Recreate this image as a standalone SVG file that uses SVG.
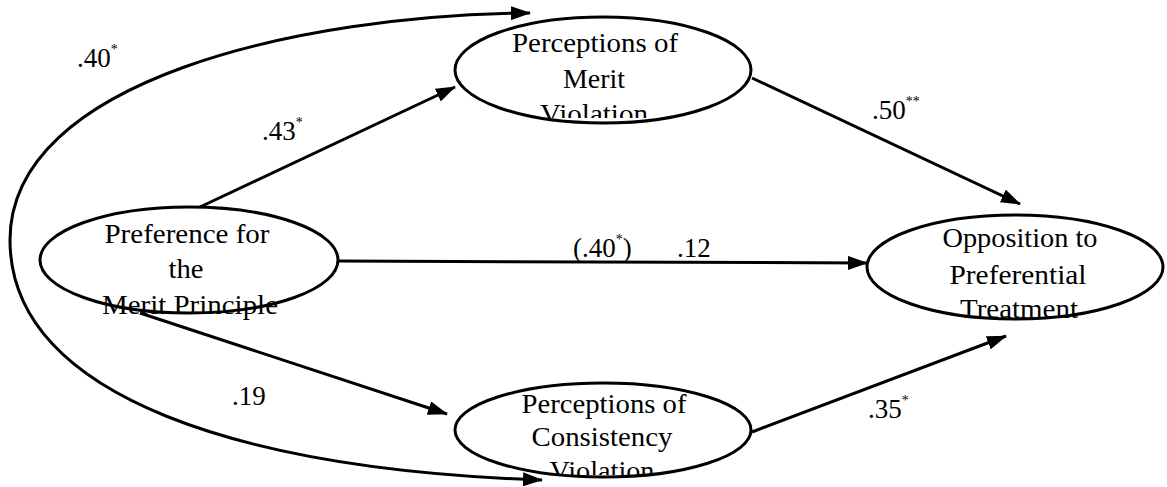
<svg xmlns="http://www.w3.org/2000/svg" width="1167" height="487" viewBox="0 0 1167 487">
  <style>
    .node { fill: #ffffff; stroke: #000000; stroke-width: 3; }
    .lbl { font-size: 27px; fill: #000000; text-anchor: middle; }
    .coef { font-size: 27px; fill: #000000; }
    .sig { font-size: 14px; }
    .edge { fill: none; stroke: #000000; stroke-width: 3; }
  </style>
  <defs>
    <marker id="arrow" viewBox="0 0 20 14" refX="19" refY="7" markerWidth="20" markerHeight="14" markerUnits="userSpaceOnUse" orient="auto">
      <path d="M0,0 L20,7 L0,14 Z" fill="#000000"/>
    </marker>
    <clipPath id="clipMerit"><rect x="440" y="0" width="330" height="118"/></clipPath>
    <clipPath id="clipCons"><rect x="440" y="370" width="330" height="105"/></clipPath>
  </defs>

  <rect width="1167" height="487" fill="#ffffff"/>

  <g font-family="'Liberation Serif', 'Times New Roman', 'DejaVu Serif', serif">
  <!-- connectors -->
  <g id="connectors">
    <!-- covariance curve around the left side -->
    <path class="edge" d="M 10,240 C 10,80 300,15 530,13" marker-end="url(#arrow)"/>
    <path class="edge" d="M 10,240 C 10,400 250,470 542,480" marker-end="url(#arrow)"/>
    <line class="edge" x1="200" y1="207" x2="455" y2="87" marker-end="url(#arrow)"/>
    <line class="edge" x1="140" y1="313" x2="447" y2="414" marker-end="url(#arrow)"/>
    <line class="edge" x1="338" y1="261" x2="867" y2="263" marker-end="url(#arrow)"/>
    <line class="edge" x1="752" y1="78" x2="1020" y2="204" marker-end="url(#arrow)"/>
    <line class="edge" x1="752" y1="432" x2="1006" y2="336" marker-end="url(#arrow)"/>
  </g>

  <!-- path coefficients -->
  <g id="coefficients">
    <text class="coef" x="77" y="67">.40<tspan class="sig" dy="-13">*</tspan></text>
    <text class="coef" x="262" y="140">.43<tspan class="sig" dy="-13">*</tspan></text>
    <text class="coef" x="872" y="119">.50<tspan class="sig" dy="-13">**</tspan></text>
    <text class="coef" x="573" y="257">(.40<tspan class="sig" dy="-13">*</tspan><tspan dy="13">)</tspan></text>
    <text class="coef" x="677" y="257">.12</text>
    <text class="coef" x="232" y="405">.19</text>
    <text class="coef" x="868" y="418">.35<tspan class="sig" dy="-13">*</tspan></text>
  </g>

  <g id="merit-violation">
    <ellipse class="node" cx="603" cy="70" rx="148" ry="53"/>
    <text class="lbl" x="595" y="52" textLength="166" lengthAdjust="spacingAndGlyphs">Perceptions of</text>
    <text class="lbl" x="594" y="88" textLength="62" lengthAdjust="spacingAndGlyphs">Merit</text>
    <text class="lbl" x="594" y="123" textLength="108" lengthAdjust="spacingAndGlyphs" clip-path="url(#clipMerit)">Violation</text>
  </g>

  <g id="merit-principle">
    <ellipse class="node" cx="189" cy="260" rx="149" ry="53"/>
    <text class="lbl" x="187" y="243" textLength="165" lengthAdjust="spacingAndGlyphs">Preference for</text>
    <text class="lbl" x="186" y="278" textLength="35" lengthAdjust="spacingAndGlyphs">the</text>
    <text class="lbl" x="190" y="314" textLength="176" lengthAdjust="spacingAndGlyphs">Merit Principle</text>
  </g>

  <g id="consistency-violation">
    <ellipse class="node" cx="603" cy="430" rx="148" ry="47"/>
    <text class="lbl" x="604" y="413" textLength="165" lengthAdjust="spacingAndGlyphs">Perceptions of</text>
    <text class="lbl" x="602" y="446" textLength="141" lengthAdjust="spacingAndGlyphs">Consistency</text>
    <text class="lbl" x="602" y="480" textLength="105" lengthAdjust="spacingAndGlyphs" clip-path="url(#clipCons)">Violation</text>
  </g>

  <g id="opposition">
    <ellipse class="node" cx="1015" cy="267" rx="148" ry="52"/>
    <text class="lbl" x="1020" y="247" textLength="155" lengthAdjust="spacingAndGlyphs">Opposition to</text>
    <text class="lbl" x="1018" y="284" textLength="137" lengthAdjust="spacingAndGlyphs">Preferential</text>
    <text class="lbl" x="1019" y="318" textLength="118" lengthAdjust="spacingAndGlyphs">Treatment</text>
  </g>
  </g>
</svg>
